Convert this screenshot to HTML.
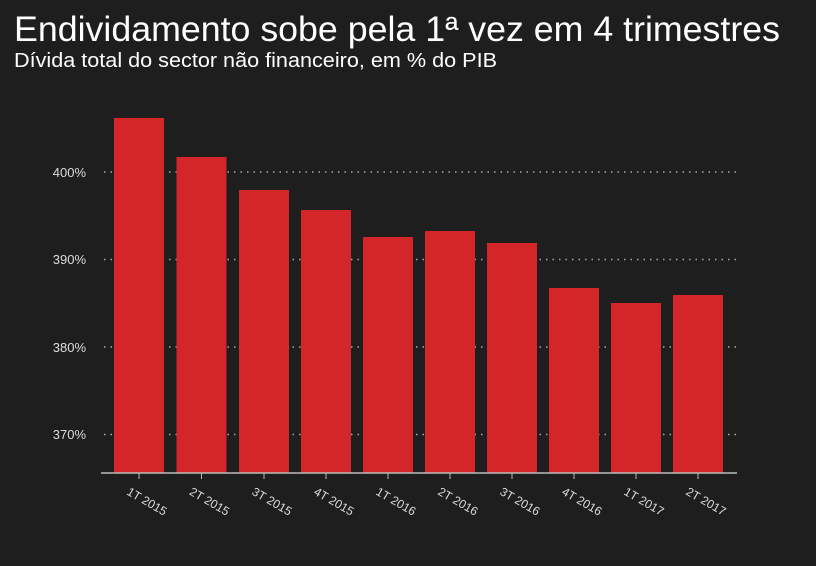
<!DOCTYPE html>
<html><head><style>
body{margin:0;background:#1e1e1e;width:816px;height:561px;overflow:hidden}
</style></head><body>
<svg width="816" height="561" xmlns="http://www.w3.org/2000/svg" style="font-family:'Liberation Sans',sans-serif">
<rect width="816" height="561" fill="#1e1e1e"/>
<text x="14" y="41" fill="#fff" font-size="35" textLength="766" lengthAdjust="spacingAndGlyphs">Endividamento sobe pela 1ª vez em 4 trimestres</text>
<text x="14" y="67" fill="#fff" font-size="20" textLength="483" lengthAdjust="spacingAndGlyphs">Dívida total do sector não financeiro, em % do PIB</text>
<g stroke="#aaa" stroke-width="1.5" stroke-dasharray="1.5 5">
<line x1="104" y1="172" x2="737" y2="172"/>
<line x1="104" y1="259.5" x2="737" y2="259.5"/>
<line x1="104" y1="347" x2="737" y2="347"/>
<line x1="104" y1="434.5" x2="737" y2="434.5"/>
</g>
<g fill="#ddd" font-size="13" text-anchor="end">
<text x="86" y="177">400%</text><text x="86" y="264">390%</text><text x="86" y="352">380%</text><text x="86" y="439">370%</text>
</g>
<g fill="#d42628">
<rect x="114" y="118" width="50" height="355"/>
<rect x="176.5" y="157" width="50" height="316"/>
<rect x="239" y="190" width="50" height="283"/>
<rect x="301" y="210" width="50" height="263"/>
<rect x="363" y="237" width="50" height="236"/>
<rect x="425" y="231" width="50" height="242"/>
<rect x="487" y="243" width="50" height="230"/>
<rect x="549" y="288" width="50" height="185"/>
<rect x="611" y="303" width="50" height="170"/>
<rect x="673" y="295" width="50" height="178"/>
</g>
<line x1="101" y1="473" x2="737" y2="473" stroke="#bbb" stroke-width="1.5"/>
<g stroke="#bbb" stroke-width="1">
<line x1="139" y1="473" x2="139" y2="479"/><line x1="201.5" y1="473" x2="201.5" y2="479"/><line x1="264" y1="473" x2="264" y2="479"/><line x1="326" y1="473" x2="326" y2="479"/><line x1="388" y1="473" x2="388" y2="479"/><line x1="450" y1="473" x2="450" y2="479"/><line x1="512" y1="473" x2="512" y2="479"/><line x1="574" y1="473" x2="574" y2="479"/><line x1="636" y1="473" x2="636" y2="479"/><line x1="698" y1="473" x2="698" y2="479"/>
</g>
<g fill="#ddd" font-size="12">
<text transform="translate(126,494) rotate(30)">1T 2015</text>
<text transform="translate(188.5,494) rotate(30)">2T 2015</text>
<text transform="translate(251,494) rotate(30)">3T 2015</text>
<text transform="translate(313,494) rotate(30)">4T 2015</text>
<text transform="translate(375,494) rotate(30)">1T 2016</text>
<text transform="translate(437,494) rotate(30)">2T 2016</text>
<text transform="translate(499,494) rotate(30)">3T 2016</text>
<text transform="translate(561,494) rotate(30)">4T 2016</text>
<text transform="translate(623,494) rotate(30)">1T 2017</text>
<text transform="translate(685,494) rotate(30)">2T 2017</text>
</g>
</svg>
</body></html>
